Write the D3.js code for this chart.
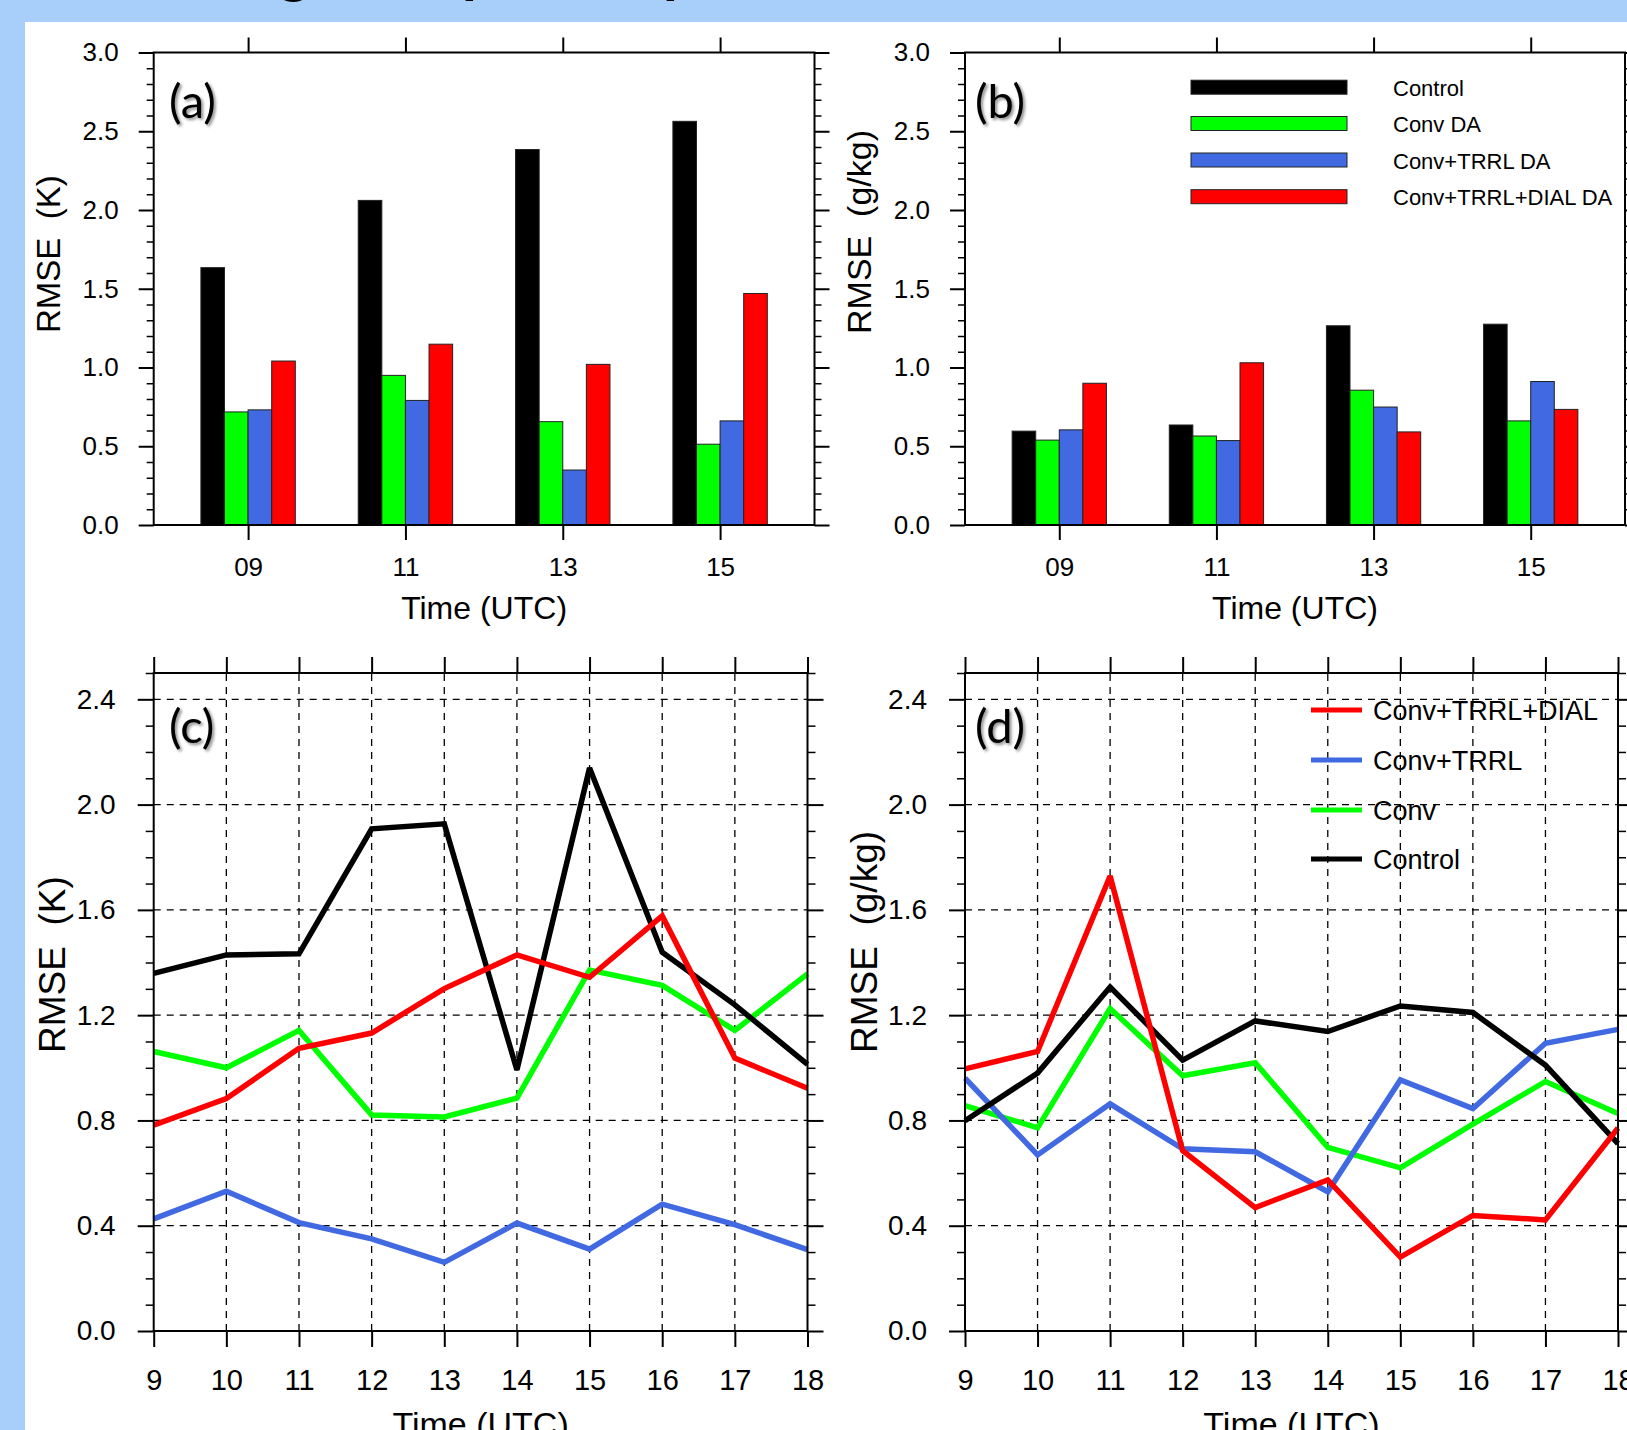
<!DOCTYPE html>
<html><head><meta charset="utf-8">
<script src="https://cdn.jsdelivr.net/npm/d3@7"></script>
<style>
html,body{margin:0;padding:0;background:#a7cff9;overflow:hidden}
svg{display:block}
</style></head><body>
<svg id="chart" width="1627" height="1430"></svg>
<script>
// ---------- data ----------
const barTimes = ["09","11","13","15"];
const barSeriesNames = ["Control","Conv DA","Conv+TRRL DA","Conv+TRRL+DIAL DA"];
const barColors = ["#000000","#00ff00","#4169e1","#ff0000"];
const tempControl = [1.634,2.061,2.384,2.563];
const tempConv    = [0.718,0.950,0.656,0.513];
const tempTRRL    = [0.731,0.791,0.349,0.661];
const tempDIAL    = [1.041,1.148,1.020,1.470];
const wvControl   = [0.596,0.635,1.265,1.275];
const wvConv      = [0.539,0.565,0.856,0.661];
const wvTRRL      = [0.604,0.536,0.749,0.911];
const wvDIAL      = [0.900,1.030,0.591,0.734];

const hours = [9,10,11,12,13,14,15,16,17,18];
const cControl = [1.359,1.429,1.433,1.908,1.927,0.992,2.139,1.439,1.239,1.013];
const cConv    = [1.062,1.000,1.142,0.821,0.813,0.885,1.371,1.313,1.142,1.357];
const cTRRL    = [0.426,0.531,0.412,0.350,0.261,0.410,0.311,0.482,0.404,0.309];
const cDIAL    = [0.782,0.883,1.074,1.132,1.301,1.429,1.344,1.577,1.037,0.922];
const dControl = [0.799,0.980,1.307,1.029,1.178,1.138,1.235,1.210,1.010,0.712];
const dConv    = [0.856,0.772,1.225,0.970,1.019,0.698,0.620,0.786,0.948,0.826];
const dTRRL    = [0.961,0.669,0.863,0.692,0.681,0.529,0.954,0.845,1.093,1.146];
const dDIAL    = [0.996,1.062,1.729,0.685,0.469,0.574,0.281,0.439,0.422,0.771];
const lineLegendNames  = ["Conv+TRRL+DIAL","Conv+TRRL","Conv","Control"];
const lineLegendColors = ["#ff0000","#4169e1","#00ff00","#000000"];
const barYTicks  = [0,0.5,1.0,1.5,2.0,2.5,3.0];
const lineYTicks = [0,0.4,0.8,1.2,1.6,2.0,2.4];
const titleFragments = ["g","p","p"];

// ---------- setup ----------
const svg = d3.select("#chart");
const FONT = "'Liberation Sans', Arial, Helvetica, sans-serif";
const defs = svg.append("defs");
const f = defs.append("filter").attr("id","shadow").attr("x","-20%").attr("y","-20%").attr("width","150%").attr("height","150%");
f.append("feDropShadow").attr("dx",2).attr("dy",2).attr("stdDeviation",1.6)
 .attr("flood-color","#000").attr("flood-opacity",0.45);

// slide background / white picture area
svg.append("rect").attr("x",0).attr("y",0).attr("width",1627).attr("height",1430).attr("fill","#a7cff9");
svg.append("rect").attr("x",25).attr("y",22).attr("width",1602).attr("height",1408).attr("fill","#ffffff");

// cut-off slide title (only descenders are visible)
const fragX = [294, 479, 680];
svg.selectAll("text.title").data(titleFragments).join("text")
  .attr("class","title").attr("x",(d,i)=>fragX[i]).attr("y",-9)
  .attr("text-anchor","middle").attr("font-family","Lato, 'Open Sans', sans-serif")
  .attr("font-weight","bold").attr("font-size",60).attr("fill","#000").text(d=>d);

function styleAxis(g, sw){
  g.selectAll(".domain").remove();
  g.selectAll(".tick line").attr("stroke","#000").attr("stroke-width",sw);
  g.selectAll("text").attr("font-family",FONT).attr("fill","#000");
}

function panelLabel(x, y, txt){
  svg.append("text").attr("x",x).attr("y",y).attr("dominant-baseline","central")
    .attr("font-family","Lato, 'Open Sans', sans-serif").attr("font-size",47)
    .attr("fill","#000").attr("filter","url(#shadow)").text(txt);
}

function yTitle(x, yStart, size, txt){
  svg.append("text").attr("transform",`translate(${x},${yStart}) rotate(-90)`)
    .attr("text-anchor","start").attr("dy","0.36em")
    .attr("font-family",FONT).attr("font-size",size).attr("fill","#000")
    .attr("xml:space","preserve").style("white-space","pre").text(txt);
}

// ---------- bar panels ----------
function barPanel(cfg){
  const x = d3.scaleLinear().domain([0.4,4.6]).range([cfg.x0,cfg.x1]);
  const y = d3.scaleLinear().domain([0,3]).range([525,52.5]);
  const g = svg.append("g");
  const series = cfg.series;
  const bw = 0.15;
  series.forEach((vals, s) => {
    g.selectAll(null).data(vals).join("rect")
      .attr("x",(d,i)=>x(i+1+(s-2)*bw))
      .attr("width",x(bw)-x(0))
      .attr("y",d=>y(d))
      .attr("height",d=>y(0)-y(d))
      .attr("fill",barColors[s]).attr("stroke","#222").attr("stroke-width",1);
  });
  const minor = d3.range(1,30).map(v=>v/10).filter(v=>Math.abs(v*2-Math.round(v*2))>1e-6);
  const gl = svg.append("g").attr("transform",`translate(${cfg.x0},0)`)
    .call(d3.axisLeft(y).tickValues(barYTicks).tickFormat(d3.format(".1f")).tickSize(15).tickPadding(20).tickSizeOuter(0));
  styleAxis(gl,2); gl.selectAll("text").attr("font-size",26);
  const glm = svg.append("g").attr("transform",`translate(${cfg.x0},0)`)
    .call(d3.axisLeft(y).tickValues(minor).tickFormat("").tickSize(7).tickSizeOuter(0));
  styleAxis(glm,1.5);
  const gr = svg.append("g").attr("transform",`translate(${cfg.x1},0)`)
    .call(d3.axisRight(y).tickValues(barYTicks).tickFormat("").tickSize(15).tickSizeOuter(0));
  styleAxis(gr,2);
  const grm = svg.append("g").attr("transform",`translate(${cfg.x1},0)`)
    .call(d3.axisRight(y).tickValues(minor).tickFormat("").tickSize(7).tickSizeOuter(0));
  styleAxis(grm,1.5);
  const gt = svg.append("g").attr("transform",`translate(0,${y(3)})`)
    .call(d3.axisTop(x).tickValues([1,2,3,4]).tickFormat("").tickSize(15).tickSizeOuter(0));
  styleAxis(gt,2);
  const gb = svg.append("g").attr("transform",`translate(0,${y(0)})`)
    .call(d3.axisBottom(x).tickValues([1,2,3,4]).tickFormat(d=>barTimes[d-1]).tickSize(15).tickSizeOuter(0));
  styleAxis(gb,2);
  gb.selectAll("text").attr("font-size",26).attr("dy",null).attr("y",42).attr("dominant-baseline","central");
  svg.append("rect").attr("x",cfg.x0).attr("y",y(3)).attr("width",cfg.x1-cfg.x0).attr("height",y(0)-y(3))
    .attr("fill","none").attr("stroke","#000").attr("stroke-width",2);
  svg.append("text").attr("x",(cfg.x0+cfg.x1)/2).attr("y",608).attr("text-anchor","middle")
    .attr("dominant-baseline","central").attr("font-family",FONT).attr("font-size",32).text("Time (UTC)");
  return {x,y};
}

barPanel({x0:153.7, x1:814.5, series:[tempControl,tempConv,tempTRRL,tempDIAL]});
barPanel({x0:965, x1:1625, series:[wvControl,wvConv,wvTRRL,wvDIAL]});
yTitle(48, 333, 33, "RMSE  (K)");
yTitle(859, 334, 34, "RMSE  (g/kg)");
panelLabel(169, 100, "(a)");
panelLabel(975, 100, "(b)");

// bar legend (panel b)
const legY = [87.2, 123.5, 160, 196.7];
svg.selectAll("rect.bleg").data(barSeriesNames).join("rect").attr("class","bleg")
  .attr("x",1191).attr("width",156).attr("y",(d,i)=>legY[i]-7).attr("height",14)
  .attr("fill",(d,i)=>barColors[i]).attr("stroke","#222").attr("stroke-width",1);
svg.selectAll("text.bleg").data(barSeriesNames).join("text").attr("class","bleg")
  .attr("x",1393).attr("y",(d,i)=>legY[i]+1).attr("dominant-baseline","central")
  .attr("font-family",FONT).attr("font-size",22).attr("fill","#000").text(d=>d);

// ---------- line panels ----------
function linePanel(cfg){
  const x = d3.scaleLinear().domain([9,18]).range([cfg.x0,cfg.x1]);
  const y = d3.scaleLinear().domain([0,2.5]).range([1331,673]);
  const grid = svg.append("g").attr("stroke","#000").attr("stroke-width",1.3).attr("stroke-dasharray","7,6");
  grid.selectAll(null).data(hours.slice(1,-1)).join("line")
    .attr("x1",d=>x(d)).attr("x2",d=>x(d)).attr("y1",y(0)).attr("y2",y(2.5));
  grid.selectAll(null).data(lineYTicks.slice(1)).join("line")
    .attr("x1",cfg.x0).attr("x2",cfg.x1).attr("y1",d=>y(d)).attr("y2",d=>y(d));
  const line = d3.line().x((d,i)=>x(hours[i])).y(d=>y(d));
  const order = [[cfg.series[1],"#00ff00"],[cfg.series[2],"#4169e1"],[cfg.series[0],"#000000"],[cfg.series[3],"#ff0000"]];
  order.forEach(([vals,col])=>{
    svg.append("path").datum(vals).attr("d",line).attr("fill","none")
      .attr("stroke",col).attr("stroke-width",5.5).attr("stroke-linejoin","miter").attr("stroke-miterlimit",3);
  });
  const minor = d3.range(1,26).map(v=>v/10).filter(v=>Math.abs(v/0.4-Math.round(v/0.4))>1e-6);
  const gl = svg.append("g").attr("transform",`translate(${cfg.x0},0)`)
    .call(d3.axisLeft(y).tickValues(lineYTicks).tickFormat(d3.format(".1f")).tickSize(16).tickPadding(22).tickSizeOuter(0));
  styleAxis(gl,2); gl.selectAll("text").attr("font-size",28);
  const glm = svg.append("g").attr("transform",`translate(${cfg.x0},0)`)
    .call(d3.axisLeft(y).tickValues(minor).tickFormat("").tickSize(8).tickSizeOuter(0));
  styleAxis(glm,1.5);
  const gr = svg.append("g").attr("transform",`translate(${cfg.x1},0)`)
    .call(d3.axisRight(y).tickValues(lineYTicks).tickFormat("").tickSize(16).tickSizeOuter(0));
  styleAxis(gr,2);
  const grm = svg.append("g").attr("transform",`translate(${cfg.x1},0)`)
    .call(d3.axisRight(y).tickValues(minor).tickFormat("").tickSize(8).tickSizeOuter(0));
  styleAxis(grm,1.5);
  const gt = svg.append("g").attr("transform",`translate(0,${y(2.5)})`)
    .call(d3.axisTop(x).tickValues(hours).tickFormat("").tickSize(16).tickSizeOuter(0));
  styleAxis(gt,2);
  const gb = svg.append("g").attr("transform",`translate(0,${y(0)})`)
    .call(d3.axisBottom(x).tickValues(hours).tickFormat(d3.format("d")).tickSize(16).tickSizeOuter(0));
  styleAxis(gb,2);
  gb.selectAll("text").attr("font-size",29).attr("dy",null).attr("y",49).attr("dominant-baseline","central");
  svg.append("rect").attr("x",cfg.x0).attr("y",y(2.5)).attr("width",cfg.x1-cfg.x0).attr("height",y(0)-y(2.5))
    .attr("fill","none").attr("stroke","#000").attr("stroke-width",2);
  svg.append("text").attr("x",(cfg.x0+cfg.x1)/2).attr("y",1436).attr("text-anchor","middle")
    .attr("font-family",FONT).attr("font-size",34).text("Time (UTC)");
  return {x,y};
}

linePanel({x0:153.7, x1:807.5, series:[cControl,cConv,cTRRL,cDIAL]});
linePanel({x0:965, x1:1618, series:[dControl,dConv,dTRRL,dDIAL]});
yTitle(52, 1053, 37, "RMSE  (K)");
yTitle(864, 1053, 37, "RMSE  (g/kg)");
panelLabel(169, 725, "(c)");
panelLabel(975, 725, "(d)");

// line legend (panel d)
const lLegY = [710, 760, 810, 859];
svg.selectAll("line.lleg").data(lineLegendNames).join("line").attr("class","lleg")
  .attr("x1",1311).attr("x2",1362).attr("y1",(d,i)=>lLegY[i]).attr("y2",(d,i)=>lLegY[i])
  .attr("stroke",(d,i)=>lineLegendColors[i]).attr("stroke-width",5);
svg.selectAll("text.lleg").data(lineLegendNames).join("text").attr("class","lleg")
  .attr("x",1373).attr("y",(d,i)=>lLegY[i]+1).attr("dominant-baseline","central")
  .attr("font-family",FONT).attr("font-size",27).attr("fill","#000").text(d=>d);
</script>
</body></html>
